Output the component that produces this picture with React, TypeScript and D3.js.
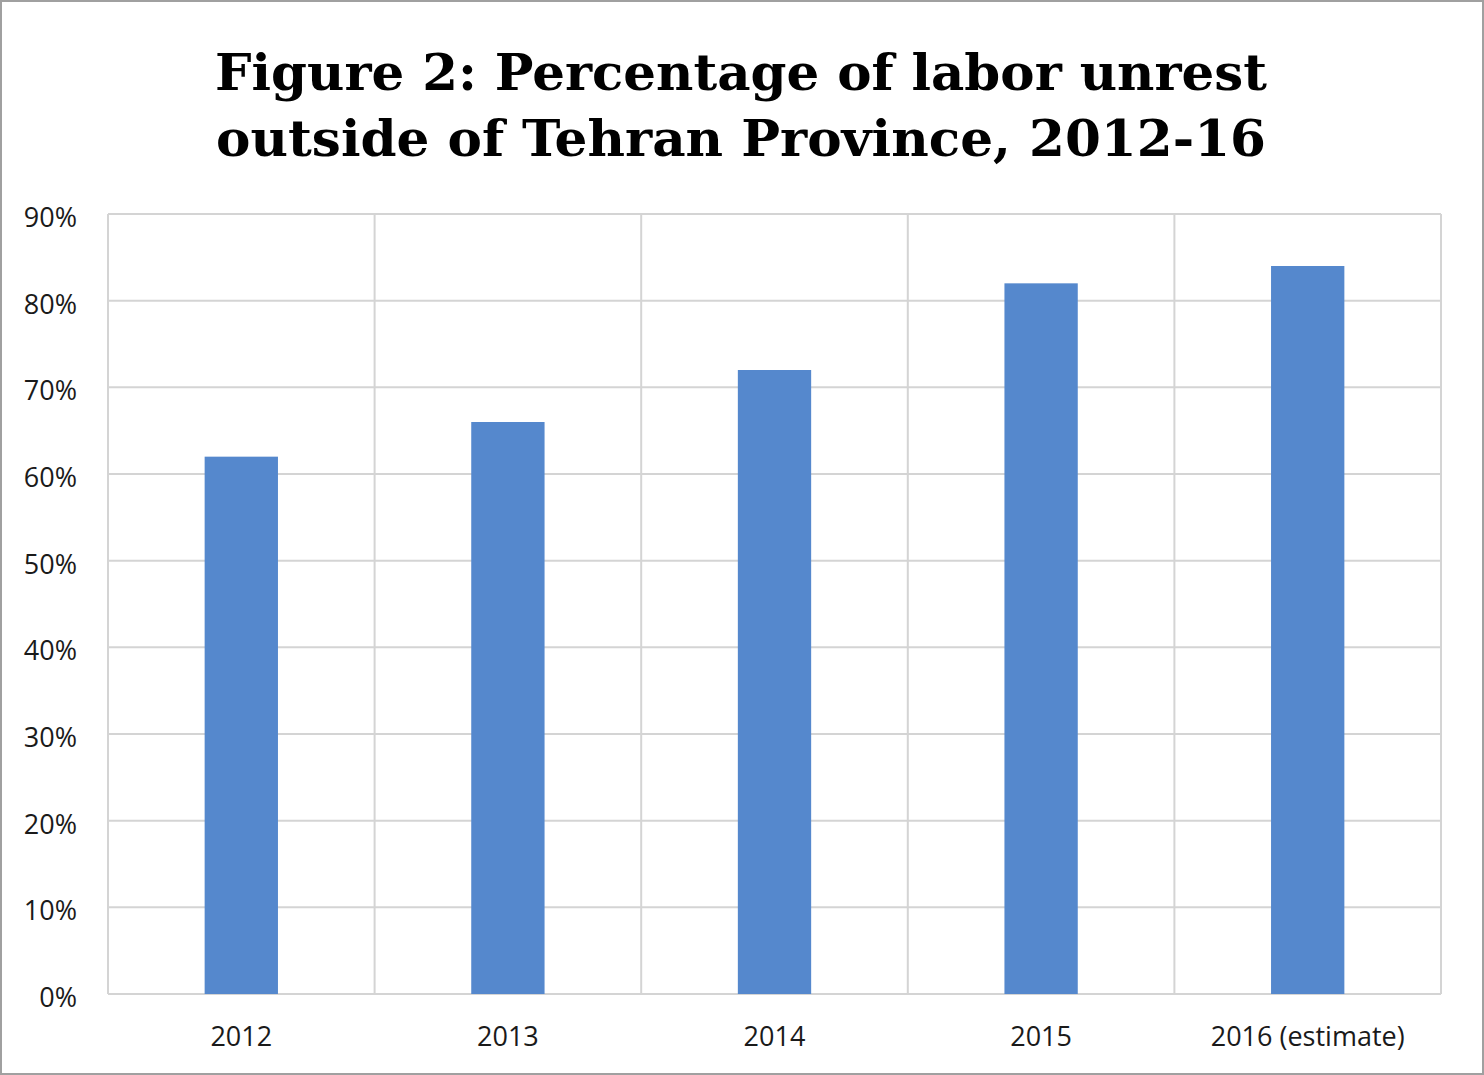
import React from "react";
import * as d3 from "d3";

const categories = ["2012", "2013", "2014", "2015", "2016 (estimate)"];
const values = [62, 66, 72, 82, 84];
const yTicks = [0, 10, 20, 30, 40, 50, 60, 70, 80, 90];
const titleLines = ["Figure 2: Percentage of labor unrest", "outside of Tehran Province, 2012-16"];

const W = 1484;
const H = 1075;
const M = { left: 108, right: 1441, top: 214, bottom: 994 };

export default function App() {
  const x = d3.scaleBand<string>().domain(categories).range([M.left, M.right]).paddingInner(0).paddingOuter(0);
  const y = d3.scaleLinear().domain([0, 90]).range([M.bottom, M.top]);
  const barW = x.bandwidth() * 0.275;
  const gridColor = "#d4d4d4";
  const font = "'Open Sans', 'Noto Sans', sans-serif";
  return (
    <svg width={W} height={H} style={{ position: "absolute", left: 0, top: 0, background: "#fff" }}>
      <rect x={1} y={1} width={W - 2} height={H - 2} fill="#fff" stroke="#a0a0a0" strokeWidth={2} />
      {titleLines.map((t, i) => (
        <text
          key={i}
          x={741}
          y={90 + i * 66}
          textAnchor="middle"
          fontFamily="'DejaVu Serif', 'Liberation Serif', serif"
          fontWeight="bold"
          fontSize={50}
          textLength={i === 0 ? 1052 : 1050}
          lengthAdjust="spacingAndGlyphs"
          fill="#000"
        >
          {t}
        </text>
      ))}
      {yTicks.map((t) => (
        <g key={t}>
          <line x1={M.left} x2={M.right} y1={y(t)} y2={y(t)} stroke={gridColor} strokeWidth={2} />
          <text x={77} y={y(t) + 13} textAnchor="end" fontFamily={font} fontSize={27} fill="#1a1a1a">
            {t}%
          </text>
        </g>
      ))}
      {categories.map((c) => (
        <line key={"v" + c} x1={x(c)!} x2={x(c)!} y1={M.top} y2={M.bottom} stroke={gridColor} strokeWidth={2} />
      ))}
      <line x1={M.right} x2={M.right} y1={M.top} y2={M.bottom} stroke={gridColor} strokeWidth={2} />
      {categories.map((c, i) => {
        const cx = x(c)! + x.bandwidth() / 2;
        return (
          <g key={c}>
            <rect x={cx - barW / 2} y={y(values[i])} width={barW} height={y(0) - y(values[i])} fill="#5588cd" />
            <text x={cx} y={1046} textAnchor="middle" fontFamily={font} fontSize={27} fill="#1a1a1a">
              {c}
            </text>
          </g>
        );
      })}
    </svg>
  );
}
